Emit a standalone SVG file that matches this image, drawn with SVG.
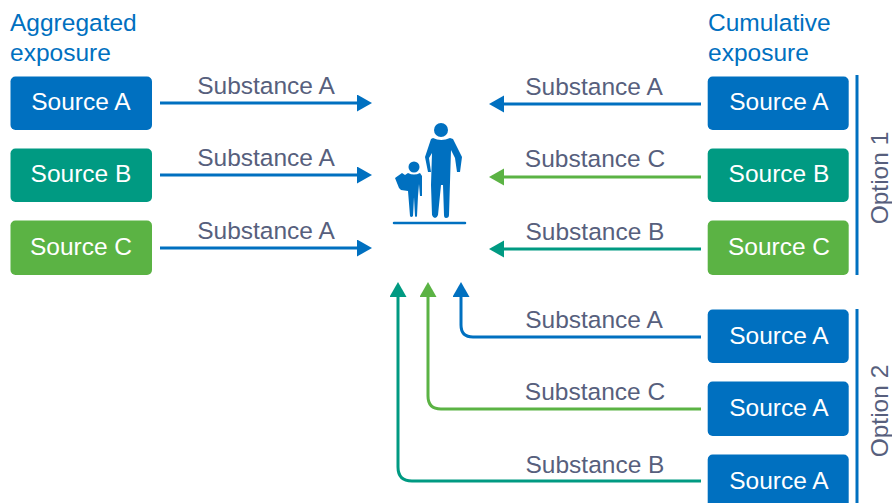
<svg xmlns="http://www.w3.org/2000/svg" width="892" height="503" viewBox="0 0 892 503">
<style>
text{font-family:"Liberation Sans",Arial,sans-serif;font-size:24.500px}
.h{fill:#0070c0}
.s{fill:#fff;text-anchor:middle}
.l{fill:#575f7d;text-anchor:middle}
.o{fill:#575f7d;text-anchor:middle}
.b{fill:#0070c0}.t{fill:#009a82}.g{fill:#5bb344}
.c{fill:none;stroke-width:3}
.sb{stroke:#0070c0}.st{stroke:#009a82}.sg{stroke:#5bb344}
</style>
<defs>
<marker id="ab" markerUnits="userSpaceOnUse" markerWidth="16" markerHeight="18" refX="3" refY="8.500" orient="auto"><path d="M0 0L15 8.500L0 17Z" fill="#0070c0"/></marker>
<marker id="at" markerUnits="userSpaceOnUse" markerWidth="16" markerHeight="18" refX="3" refY="8.500" orient="auto"><path d="M0 0L15 8.500L0 17Z" fill="#009a82"/></marker>
<marker id="ag" markerUnits="userSpaceOnUse" markerWidth="16" markerHeight="18" refX="3" refY="8.500" orient="auto"><path d="M0 0L15 8.500L0 17Z" fill="#5bb344"/></marker>
</defs>
<text class="h" x="10" y="31">Aggregated</text>
<text class="h" x="10" y="61">exposure</text>
<text class="h" x="708" y="31">Cumulative</text>
<text class="h" x="708" y="61">exposure</text>
<g id="connectors">
<path class="c sb" marker-end="url(#ab)" d="M160 103H360"/>
<path class="c sb" marker-end="url(#ab)" d="M160 175H360"/>
<path class="c sb" marker-end="url(#ab)" d="M160 248H360"/>
<path class="c sb" marker-end="url(#ab)" d="M701 104H501"/>
<path class="c sg" marker-end="url(#ag)" d="M701 177H501"/>
<path class="c st" marker-end="url(#at)" d="M701 249H501"/>
<path class="c sb" marker-end="url(#ab)" d="M701 337H473Q461 337 461 325V294"/>
<path class="c sg" marker-end="url(#ag)" d="M701 409H441Q428 409 428 396V294"/>
<path class="c st" marker-end="url(#at)" d="M701 481H412Q398 481 398 467V294"/>
</g>
<g id="labels">
<text class="l" x="266" y="94">Substance A</text>
<text class="l" x="266" y="166">Substance A</text>
<text class="l" x="266" y="239">Substance A</text>
<text class="l" x="594" y="95">Substance A</text>
<text class="l" x="595" y="167">Substance C</text>
<text class="l" x="595" y="240">Substance B</text>
<text class="l" x="594" y="328">Substance A</text>
<text class="l" x="595" y="400">Substance C</text>
<text class="l" x="595" y="473">Substance B</text>
</g>
<g id="a1"><rect class="b" x="10.500" y="76.500" width="141.500" height="53.500" rx="5"/><text class="s" x="81" y="110">Source A</text></g>
<g id="a2"><rect class="t" x="10.500" y="148.500" width="141.500" height="53.500" rx="5"/><text class="s" x="81" y="182">Source B</text></g>
<g id="a3"><rect class="g" x="10.500" y="220.500" width="141.500" height="54.500" rx="5"/><text class="s" x="81" y="255">Source C</text></g>
<g id="c1"><rect class="b" x="707.700" y="76.500" width="141" height="53.500" rx="5"/><text class="s" x="779" y="110">Source A</text></g>
<g id="c2"><rect class="t" x="707.700" y="148.500" width="141" height="53.500" rx="5"/><text class="s" x="779" y="182">Source B</text></g>
<g id="c3"><rect class="g" x="707.700" y="220.500" width="141" height="54.500" rx="5"/><text class="s" x="779" y="255">Source C</text></g>
<g id="d1"><rect class="b" x="707.700" y="309.500" width="141" height="53.500" rx="5"/><text class="s" x="779" y="344">Source A</text></g>
<g id="d2"><rect class="b" x="707.700" y="381.500" width="141" height="54.500" rx="5"/><text class="s" x="779" y="416">Source A</text></g>
<g id="d3"><rect class="b" x="707.700" y="454.500" width="141" height="54.500" rx="5"/><text class="s" x="779" y="489">Source A</text></g>
<g id="option1"><path class="c sb" d="M857 75V275"/><text class="o" transform="translate(888 178) rotate(-90)">Option 1</text></g>
<g id="option2"><path class="c sb" d="M857 309V503"/><text class="o" transform="translate(888 411) rotate(-90)">Option 2</text></g>
<g id="people" class="b">
<circle cx="441" cy="130" r="7"/>
<path d="M433 138Q441 142 450 138L453 139L462 157L460 172H457L455 158L451 150L450 182L449 215Q449 218 446 218Q444 218 444 215L443 185H441L438 215Q437 218 435 218Q433 218 432 215L431 185L432 153L429 158L431 172H428L425 157L431 139Z"/>
<circle cx="414" cy="167" r="5.500"/>
<path d="M408 173Q414 176 420 173L422 176L422 196L420 196L419 184L418 196L417 216Q416 218 415 216L414 197L413 216Q411 218 410 216L408 191L401 190L399 188L395 178L402 173L405 175Z"/>
<path class="c sb" stroke-linecap="round" d="M394 223H465" style="stroke-width:2.500"/>
</g>
</svg>
